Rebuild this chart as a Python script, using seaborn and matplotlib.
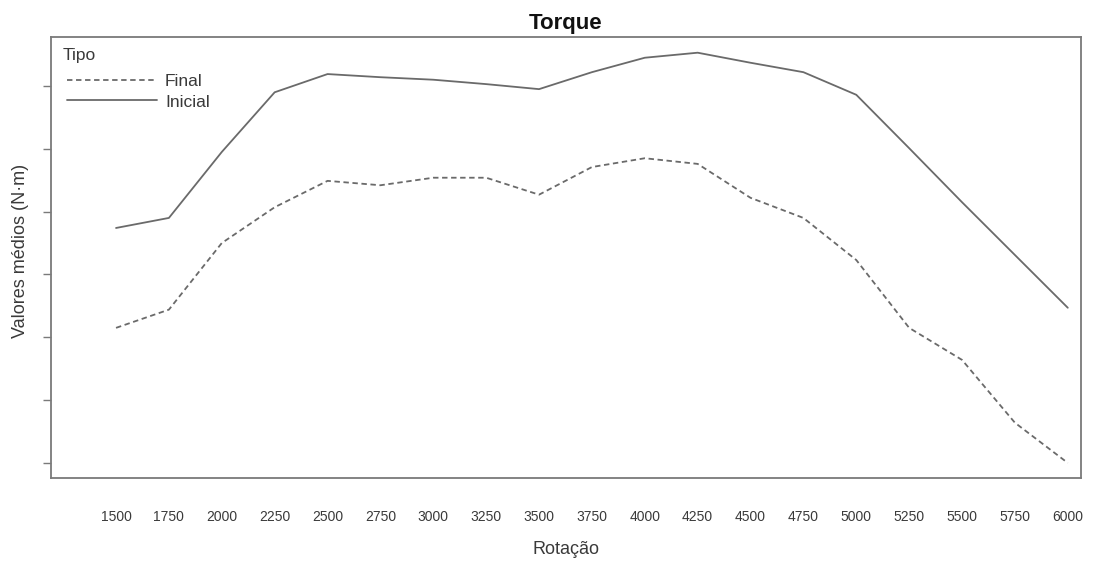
import matplotlib
matplotlib.use("Agg")
import matplotlib.pyplot as plt
import seaborn as sns
import pandas as pd

# Engine speed levels (rpm) and mean torque per condition (axis units)
rotacao = ["1500", "1750", "2000", "2250", "2500", "2750", "3000", "3250", "3500",
           "3750", "4000", "4250", "4500", "4750", "5000", "5250", "5500", "5750", "6000"]
torque_inicial = [3.74, 3.90, 4.95, 5.90, 6.19, 6.14, 6.10, 6.03, 5.95,
                  6.22, 6.45, 6.53, 6.37, 6.22, 5.86, 5.01, 4.15, 3.31, 2.47]
torque_final = [2.15, 2.44, 3.50, 4.07, 4.49, 4.42, 4.54, 4.54, 4.27,
                4.71, 4.85, 4.76, 4.22, 3.90, 3.23, 2.15, 1.64, 0.64, 0.00]
tipos = ["Final", "Inicial"]

df = pd.concat([
    pd.DataFrame({"Rotação": rotacao, "Valor": torque_final, "Tipo": "Final"}),
    pd.DataFrame({"Rotação": rotacao, "Valor": torque_inicial, "Tipo": "Inicial"}),
])

sns.set_theme(style="white")
plt.rcParams["font.family"] = ["Liberation Sans", "DejaVu Sans"]

fig = plt.figure(figsize=(10.93, 5.62), dpi=100)
ax = fig.add_axes([51 / 1093, 1 - 478 / 562, (1081 - 51) / 1093, (478 - 37) / 562])

line_color = "#6a6a6a"
text_color = "#3a3a3a"
sns.lineplot(data=df, x="Rotação", y="Valor", hue="Tipo", style="Tipo",
             hue_order=tipos, style_order=tipos,
             palette={"Final": line_color, "Inicial": line_color},
             dashes={"Final": (3, 2), "Inicial": ""},
             linewidth=1.3, sort=False, ax=ax)

ax.set_xlim(-1.23, 18.25)
ax.set_ylim(-0.24, 6.78)
ax.set_yticks(range(7))
ax.set_yticklabels([])
ax.set_xticks(range(len(rotacao)))
ax.set_xticklabels(rotacao)
ax.tick_params(axis="y", left=True, length=6, width=1, color="#7a7a7a", direction="out")
ax.tick_params(axis="x", bottom=False, pad=17, labelsize=10, labelcolor=text_color)

for s in ax.spines.values():
    s.set_color("#7a7a7a")
    s.set_linewidth(1.3)

ax.set_title("Torque", fontsize=16, fontweight="bold", color="#111111", pad=6)
ax.set_xlabel("Rotação", fontsize=13, color=text_color, labelpad=12)
ax.set_ylabel("Valores médios (N·m)", fontsize=13, color=text_color)
ax.yaxis.set_label_coords(-0.021, 0.515)

# Legend: entries plus a separate title line
leg = ax.legend(loc="upper left", frameon=False, fontsize=12.5,
                handlelength=5.2, handletextpad=0.45, labelspacing=0.3,
                borderaxespad=0, borderpad=0, bbox_to_anchor=(0.0155, 0.916))
for t in leg.get_texts():
    t.set_color(text_color)
ax.text(0.0117, 0.959, "Tipo", transform=ax.transAxes, fontsize=12.5,
        color=text_color, ha="left", va="center")

fig.savefig("out.png", dpi=100)
